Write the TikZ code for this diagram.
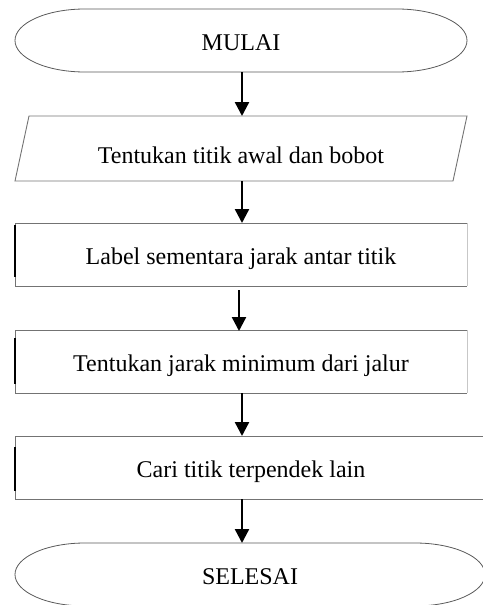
\documentclass[tikz,border=0pt]{standalone}
\usepackage{fontspec}
\setmainfont{Liberation Serif}
\usetikzlibrary{arrows.meta}
\begin{document}
\begin{tikzpicture}[x=1pt,y=-1pt,
  shp/.style={draw=none, minimum height=63pt, minimum width=452pt, inner sep=0pt, outer sep=0pt,
    font=\fontsize{24}{28}\selectfont, text height=22pt, text depth=2pt},
  edge/.style={draw=black!55, line width=0.9pt},
  faint/.style={draw=black!22, line width=0.9pt},
  term/.style={draw=black!65, line width=0.8pt},
  darkedge/.style={draw=black, line width=1.4pt},
  arr/.style={draw=black, line width=2.4pt, -{Triangle[width=14pt,length=14pt]}}]
\useasboundingbox (0,0) rectangle (482,605);

% nodes
\node[shp] (m) at (241,40.5) {MULAI};
\node[shp, text height=30pt, text depth=1pt, minimum height=65pt] (p) at (241,148.5) {Tentukan titik awal dan bobot};
\node[shp] (b2) at (241,254.5) {Label sementara jarak antar titik};
\node[shp] (b3) at (241,361.5) {Tentukan jarak minimum dari jalur};
\node[shp, minimum width=472pt] (b4) at (251,467.5) {Cari titik terpendek lain};
\node[shp, minimum width=470pt] (s) at (250,574.5) {SELESAI};

% terminal MULAI
\draw[term] ([xshift=70pt]m.north west) -- ([xshift=-70pt]m.north east)
  arc[start angle=90, end angle=-90, x radius=70pt, y radius=31.5pt]
  -- ([xshift=70pt]m.south west)
  arc[start angle=270, end angle=90, x radius=70pt, y radius=31.5pt] -- cycle;

% parallelogram
\draw[edge] ([xshift=14pt]p.north west) -- (p.north east)
  -- ([xshift=-14pt]p.south east) -- (p.south west) -- cycle;

% box 2
\draw[edge] (b2.north east) -- (b2.north west) -- (b2.south west) -- (b2.south east);
\draw[faint] (b2.north east) -- (b2.south east);
\draw[darkedge] ([yshift=-2pt]b2.north west) -- ([yshift=9pt]b2.south west);

% box 3
\draw[edge] (b3.north east) -- (b3.north west) -- (b3.south west) -- (b3.south east);
\draw[faint] (b3.north east) -- (b3.south east);
\draw[darkedge] ([yshift=-8pt]b3.north west) -- ([yshift=9pt]b3.south west);

% box 4 (open to the right)
\draw[edge] (b4.north east) -- (b4.north west) -- (b4.south west) -- (b4.south east);
\draw[darkedge] ([yshift=-11pt]b4.north west) -- ([yshift=8pt]b4.south west);

% terminal SELESAI
\draw[term] ([xshift=70pt]s.north west) -- ([xshift=-70pt]s.north east)
  arc[start angle=90, end angle=-90, x radius=70pt, y radius=31.5pt]
  -- ([xshift=70pt]s.south west)
  arc[start angle=270, end angle=90, x radius=70pt, y radius=31.5pt] -- cycle;

% connectors
\draw[arr] ([xshift=1pt]m.south) -- ([xshift=1pt]p.north);
\draw[arr] ([xshift=1pt]p.south) -- ([xshift=1pt]b2.north);
\draw[arr] ([shift={(-2pt,-4pt)}]b2.south) -- ([shift={(-2pt,-1pt)}]b3.north);
\draw[arr] ([xshift=1pt]b3.south) -- ([xshift=1pt]b3.south |- b4.north);
\draw[arr] ([xshift=1pt]b3.south |- b4.south) -- ([xshift=1pt]b3.south |- s.north);
\end{tikzpicture}
\end{document}
